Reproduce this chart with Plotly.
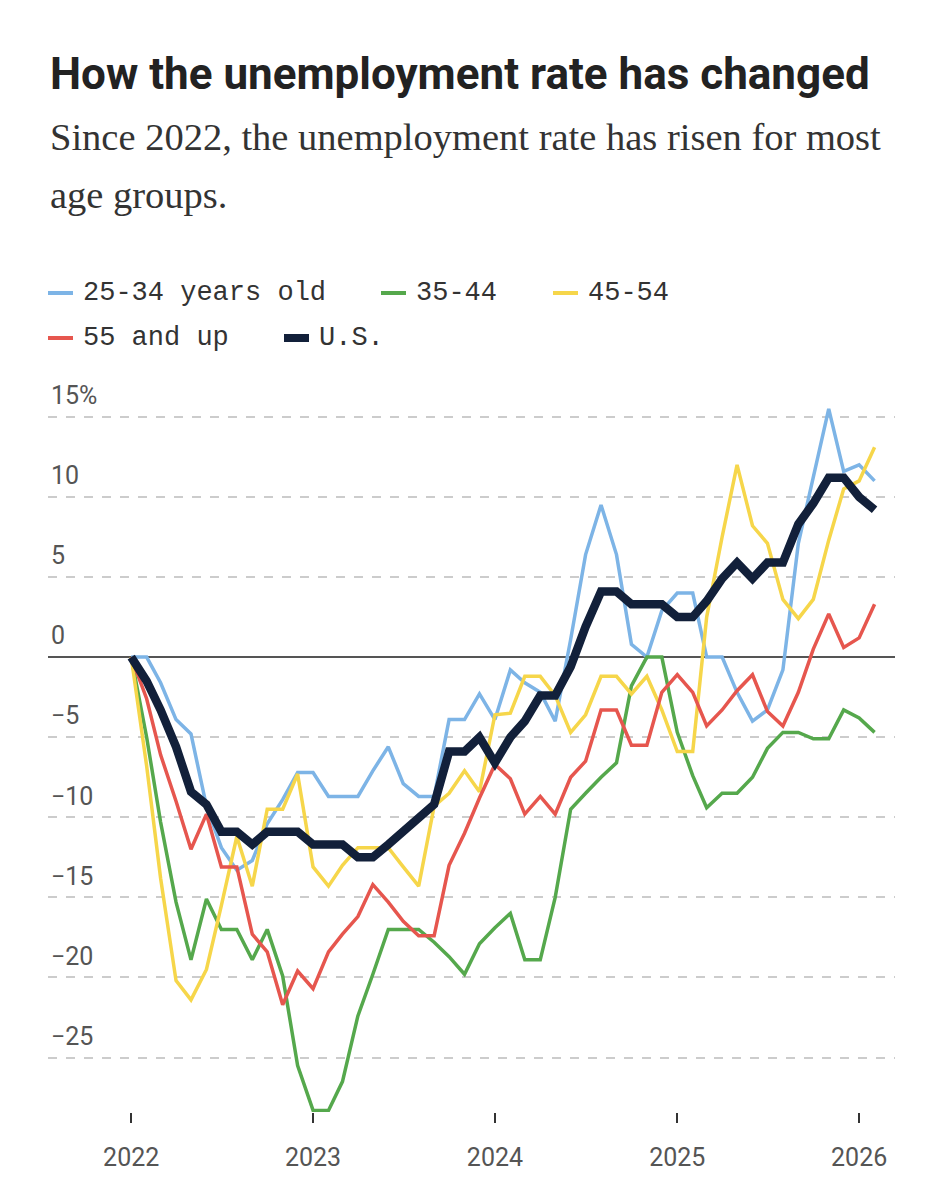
import pandas as pd
import plotly.graph_objects as go

# monthly, Jan 2022 - Feb 2026 (change in unemployment rate since Jan 2022, %)
months = pd.date_range("2022-01-01", periods=50, freq="MS")

age_25_34 = [0, 0, -1.6, -3.9, -4.8, -9.3, -11.9, -13.3, -12.7, -10.4, -8.9, -7.2,
             -7.2, -8.7, -8.7, -8.7, -7.1, -5.6, -7.9, -8.7, -8.7, -3.9, -3.9, -2.3,
             -3.9, -0.8, -1.6, -2.2, -4.0, 1.1, 6.4, 9.5, 6.4, 0.8, 0.0, 2.9,
             4.0, 4.0, 0.0, 0.0, -2.2, -4.0, -3.3, -0.8, 7.1, 11.2, 15.5, 11.6,
             12.0, 11.0]
age_35_44 = [0, -5.0, -10.3, -15.3, -18.9, -15.1, -17.0, -17.0, -18.9, -17.0, -19.9, -25.5,
             -28.3, -28.3, -26.5, -22.4, -19.8, -17.0, -17.0, -17.0, -17.8, -18.7, -19.8, -17.9,
             -16.9, -16.0, -18.9, -18.9, -15.0, -9.5, -8.5, -7.5, -6.6, -1.8, 0.0, 0.0,
             -4.7, -7.4, -9.4, -8.5, -8.5, -7.5, -5.7, -4.7, -4.7, -5.1, -5.1, -3.3,
             -3.8, -4.7]
age_45_54 = [0, -6.8, -13.8, -20.2, -21.4, -19.5, -15.5, -11.2, -14.3, -9.5, -9.5, -7.3,
             -13.1, -14.3, -13.0, -11.9, -11.9, -11.9, -13.1, -14.3, -9.3, -8.5, -7.1, -8.4,
             -3.6, -3.5, -1.2, -1.2, -2.4, -4.7, -3.6, -1.2, -1.2, -2.3, -1.2, -3.3,
             -5.9, -5.9, 2.5, 7.5, 12.0, 8.2, 7.1, 3.6, 2.4, 3.6, 7.3, 10.5,
             11.0, 13.1]
age_55_up = [0, -2.6, -6.1, -9.0, -12.0, -9.8, -13.1, -13.1, -17.3, -18.4, -21.7, -19.6,
             -20.7, -18.4, -17.3, -16.2, -14.2, -15.3, -16.5, -17.4, -17.4, -13.0, -11.0, -8.8,
             -6.7, -7.6, -9.8, -8.7, -9.8, -7.5, -6.5, -3.3, -3.3, -5.5, -5.5, -2.2,
             -1.1, -2.2, -4.3, -3.3, -2.1, -1.1, -3.4, -4.3, -2.2, 0.5, 2.7, 0.6,
             1.2, 3.3]
us_total = [0, -1.5, -3.3, -5.6, -8.4, -9.2, -10.9, -10.9, -11.7, -10.9, -10.9, -10.9,
            -11.7, -11.7, -11.7, -12.5, -12.5, -11.7, -10.9, -10.0, -9.2, -5.9, -5.9, -5.0,
            -6.6, -5.0, -4.0, -2.4, -2.4, -0.6, 1.9, 4.1, 4.1, 3.3, 3.3, 3.3,
            2.5, 2.5, 3.5, 4.9, 5.9, 4.9, 5.9, 5.9, 8.3, 9.6, 11.2, 11.2,
            10.0, 9.2]

series_names = ["25-34 years old", "35-44", "45-54", "55 and up", "U.S."]
series_colors = ["#7db4e6", "#55a84c", "#f6d64a", "#e6564e", "#12203a"]

y_ticks = [-25, -20, -15, -10, -5, 0, 5, 10, 15]
y_labels = ["\u221225", "\u221220", "\u221215", "\u221210", "\u22125", "0", "5", "10", "15%"]
x_ticks = ["2022-01-01", "2023-01-01", "2024-01-01", "2025-01-01", "2026-01-01"]
x_labels = ["2022", "2023", "2024", "2025", "2026"]

fig = go.Figure()
all_series = [age_25_34, age_35_44, age_45_54, age_55_up, us_total]
for name, vals, col in zip(series_names, all_series, series_colors):
    fig.add_trace(go.Scatter(
        x=months, y=vals, name=name, mode="lines",
        line=dict(color=col, width=8.5 if name == "U.S." else 3.5),
        showlegend=False))

# page body has an 8px margin, so margins are shifted by that
fig.update_layout(
    width=943, height=1200,
    paper_bgcolor="white", plot_bgcolor="white",
    margin=dict(l=40, r=56, t=368, b=96),
    font=dict(family="Roboto", color="#555555"),
)

fig.update_xaxes(
    type="date", range=["2021-07-18", "2026-03-14"],
    tickvals=x_ticks, ticktext=x_labels,
    showgrid=False, showline=False, zeroline=False,
    ticks="outside", ticklen=10, tickwidth=1.5, tickcolor="#333333",
    ticklabelstandoff=13,
    tickfont=dict(size=25, color="#555555", family="Roboto"),
)
fig.update_yaxes(
    range=[-28.4, 17.55],
    tickvals=y_ticks, ticktext=y_labels,
    ticklabelposition="inside top", ticklabelshift=-4,
    tickfont=dict(size=25, color="#555555", family="Roboto"),
    showgrid=True, gridcolor="#cccccc", gridwidth=1.5, griddash="dash",
    zeroline=True, zerolinecolor="#555555", zerolinewidth=1.5,
    showline=False, ticks="",
)

# helpers: screen pixel -> paper coords (plot area spans x 48..895, y 376..1112)
def py(px):
    return (1112 - px) / 736

def pxx(px):
    return (px - 48) / 847

fig.add_annotation(
    text="<b>How the unemployment rate has changed</b>",
    xref="paper", yref="paper", x=0, y=py(74), xanchor="left", yanchor="middle",
    showarrow=False,
    font=dict(family="Roboto", size=44, color="#222222"))
fig.add_annotation(
    text="Since 2022, the unemployment rate has risen for most",
    xref="paper", yref="paper", x=0, y=py(137), xanchor="left", yanchor="middle",
    showarrow=False,
    font=dict(family="Liberation Serif", size=38.5, color="#333333"))
fig.add_annotation(
    text="age groups.",
    xref="paper", yref="paper", x=0, y=py(195), xanchor="left", yanchor="middle",
    showarrow=False,
    font=dict(family="Liberation Serif", size=38.5, color="#333333"))

# legend drawn by hand
legend_pos = [(48, 293), (381, 293), (553, 293), (48, 338), (284, 338)]
for name, col, (lx, ly) in zip(series_names, series_colors, legend_pos):
    fig.add_shape(type="line", xref="paper", yref="paper",
                  x0=pxx(lx), x1=pxx(lx + 25), y0=py(ly), y1=py(ly),
                  line=dict(color=col, width=8 if name == "U.S." else 4))
    fig.add_annotation(
        text=name, xref="paper", yref="paper", x=pxx(lx + 33), y=py(ly),
        xanchor="left", yanchor="middle", showarrow=False,
        font=dict(family="Liberation Mono", size=27, color="#333333"))

fig.write_html("out.html")
